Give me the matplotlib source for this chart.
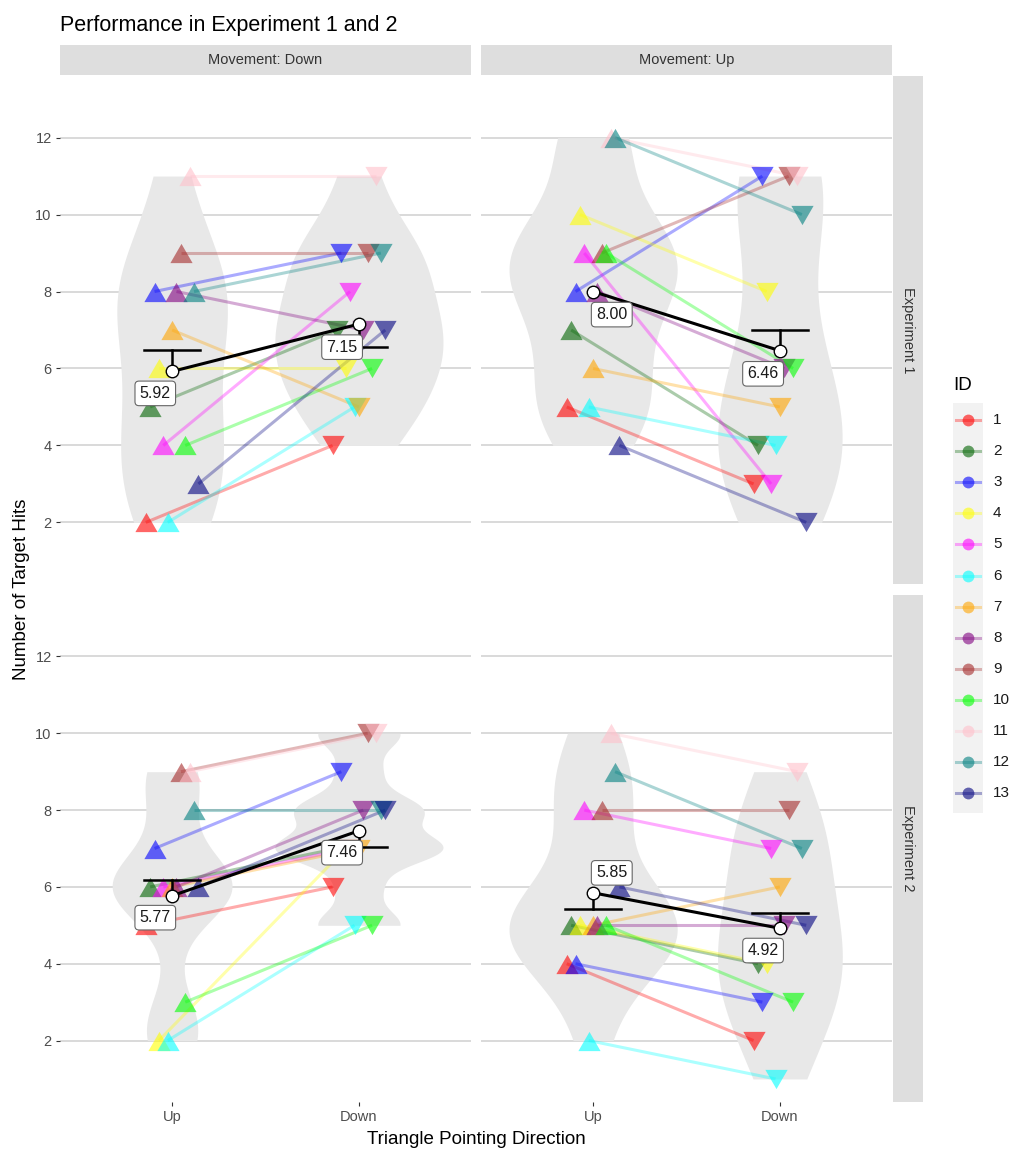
import numpy as np
import matplotlib
matplotlib.use("Agg")
import matplotlib.pyplot as plt
from matplotlib.path import Path
from matplotlib.patches import Rectangle

plt.rcParams['font.family'] = ['Liberation Sans', 'DejaVu Sans']

# participants and their colours
ids = list(range(1, 14))
id_colors = ["#FF0000", "#006400", "#0000FF", "#FFFF00", "#FF00FF", "#00FFFF",
             "#FFA500", "#800080", "#A52A2A", "#00FF00", "#FFC0CB", "#008080", "#000080"]

directions = ["Up", "Down"]          # triangle pointing direction (x axis)
movements = ["Down", "Up"]           # facet columns
experiments = ["Experiment 1", "Experiment 2"]  # facet rows

# number of target hits per ID (1..13)
exp1_movdown_up = [2, 5, 8, 6, 4, 2, 7, 8, 9, 4, 11, 8, 3]
exp1_movdown_down = [4, 7, 9, 6, 8, 5, 5, 7, 9, 6, 11, 9, 7]
exp1_movup_up = [5, 7, 8, 10, 9, 5, 6, 8, 9, 9, 12, 12, 4]
exp1_movup_down = [3, 4, 11, 8, 3, 4, 5, 6, 11, 6, 11, 10, 2]
exp2_movdown_up = [5, 6, 7, 2, 6, 2, 6, 6, 9, 3, 9, 8, 6]
exp2_movdown_down = [6, 7, 9, 7, 7, 5, 7, 8, 10, 5, 10, 8, 8]
exp2_movup_up = [4, 5, 4, 5, 8, 2, 5, 5, 8, 5, 10, 9, 6]
exp2_movup_down = [2, 4, 3, 4, 7, 1, 6, 5, 8, 3, 9, 7, 5]

# error bar lengths (Up, Down)
exp1_movdown_err = [0.55, 0.6]
exp1_movup_err = [0.0, 0.55]
exp2_movdown_err = [0.41, 0.41]
exp2_movup_err = [0.41, 0.41]

panels = {
    (0, 0): (exp1_movdown_up, exp1_movdown_down, exp1_movdown_err),
    (0, 1): (exp1_movup_up, exp1_movup_down, exp1_movup_err),
    (1, 0): (exp2_movdown_up, exp2_movdown_down, exp2_movdown_err),
    (1, 1): (exp2_movup_up, exp2_movup_down, exp2_movup_err),
}

# where the mean labels sit relative to the mean point (layout)
label_offsets = {
    (0, 0): [(-0.09, -0.57), (-0.09, -0.6)],
    (0, 1): [(0.1, -0.6), (-0.09, -0.6)],
    (1, 0): [(-0.09, -0.57), (-0.09, -0.57)],
    (1, 1): [(0.1, 0.52), (-0.09, -0.58)],
}

W, H = 1013, 1151
fig = plt.figure(figsize=(W / 100, H / 100), dpi=100)


def box(x0, y0, x1, y1):
    return [x0 / W, 1 - y1 / H, (x1 - x0) / W, (y1 - y0) / H]


def nrd0(v):
    v = np.asarray(v, float)
    hi = v.std(ddof=1)
    q75, q25 = np.percentile(v, [75, 25])
    lo = min(hi, (q75 - q25) / 1.34)
    if lo == 0:
        lo = hi if hi > 0 else 1.0
    return 0.9 * lo * len(v) ** -0.2


def kde(v):
    v = np.asarray(v, float)
    bw = nrd0(v)
    grid = np.linspace(v.min(), v.max(), 512)
    d = np.exp(-0.5 * ((grid[:, None] - v[None, :]) / bw) ** 2).sum(1)
    d = d / (len(v) * bw * np.sqrt(2 * np.pi))
    return grid, d


tri_up = Path([(0, 0.433), (-0.5, -0.433), (0.5, -0.433), (0, 0.433)],
              [Path.MOVETO, Path.LINETO, Path.LINETO, Path.CLOSEPOLY])
tri_down = Path([(0, -0.433), (-0.5, 0.433), (0.5, 0.433), (0, -0.433)],
                [Path.MOVETO, Path.LINETO, Path.LINETO, Path.CLOSEPOLY])

col_px = [(60, 471), (481, 892)]
row_px = [(76, 584), (595, 1102)]

for r, exp in enumerate(experiments):
    for c, mov in enumerate(movements):
        up, down, err = panels[(r, c)]
        ax = fig.add_axes(box(col_px[c][0], row_px[r][0], col_px[c][1], row_px[r][1]))
        ax.set_xlim(0.4, 2.6)
        ax.set_ylim(0.4, 13.6)

        # violins, scaled by area within the panel
        dens = [kde(up), kde(down)]
        dmax = max(d.max() for _, d in dens)
        for k, (g, d) in enumerate(dens):
            hw = d / dmax * 0.45
            ax.fill_betweenx(g, k + 1 - hw, k + 1 + hw, color="#E8E8E8", lw=0, zorder=1)

        # individual lines and triangles
        for i, pid in enumerate(ids):
            off = (pid - 7) * 0.0235
            col = id_colors[i]
            ax.plot([1 + off, 2 + off], [up[i], down[i]], color=col, alpha=0.33,
                    lw=2.2, solid_capstyle="butt", zorder=2)
        for i, pid in enumerate(ids):
            off = (pid - 7) * 0.0235
            col = id_colors[i]
            ax.plot(1 + off, up[i], marker=tri_up, ms=16, color=col, alpha=0.6,
                    mew=0, ls="none", zorder=3)
            ax.plot(2 + off, down[i], marker=tri_down, ms=16, color=col, alpha=0.6,
                    mew=0, ls="none", zorder=3)

        # means, one-sided error bars, labels
        means = [np.mean(up), np.mean(down)]
        ax.plot([1, 2], means, color="black", lw=2.2, zorder=4)
        for k in range(2):
            if err[k] > 0:
                sgn = np.sign(means[1 - k] - means[k])
                end = means[k] + sgn * err[k]
                ax.plot([k + 1, k + 1], [means[k], end], color="black", lw=1.8, zorder=4)
                ax.plot([k + 1 - 0.15, k + 1 + 0.15], [end, end], color="black", lw=1.8,
                        zorder=4)
        ax.plot([1, 2], means, ls="none", marker="o", ms=9, mfc="white", mec="black",
                mew=1, zorder=5)
        for k in range(2):
            dx, dy = label_offsets[(r, c)][k]
            ax.text(k + 1 + dx, means[k] + dy, f"{means[k]:.2f}", ha="center",
                    va="center", fontsize=11.5, color="#1A1A1A", zorder=6,
                    bbox=dict(boxstyle="round,pad=0.3,rounding_size=0.25", fc="white",
                              ec="#666666", lw=0.8))

        ax.set_xticks([1, 2])
        ax.set_xticklabels(directions)
        ax.set_yticks(range(2, 13, 2))
        ax.tick_params(length=3, width=0.8, color="#333333", labelcolor="#4D4D4D",
                       labelsize=10.5, pad=3)
        if c != 0:
            ax.tick_params(axis="y", left=False, labelleft=False)
        if r != 1:
            ax.tick_params(axis="x", bottom=False, labelbottom=False)
        ax.yaxis.grid(True, color="#D0D0D0", lw=1.1)
        ax.set_axisbelow(True)
        for s in ax.spines.values():
            s.set_visible(False)

# facet strips
for c, mov in enumerate(movements):
    sax = fig.add_axes(box(col_px[c][0], 45, col_px[c][1], 75))
    sax.set_facecolor("#DEDEDE")
    sax.set_xticks([]); sax.set_yticks([])
    for s in sax.spines.values():
        s.set_visible(False)
    sax.text(0.5, 0.5, f"Movement: {mov}", ha="center", va="center", fontsize=10.5,
             color="#333333", transform=sax.transAxes)
for r, exp in enumerate(experiments):
    sax = fig.add_axes(box(893, row_px[r][0], 923, row_px[r][1]))
    sax.set_facecolor("#DEDEDE")
    sax.set_xticks([]); sax.set_yticks([])
    for s in sax.spines.values():
        s.set_visible(False)
    sax.text(0.5, 0.5, exp, ha="center", va="center", fontsize=10.5, rotation=-90,
             color="#333333", transform=sax.transAxes)

fig.text(60 / W, 1 - 31 / H, "Performance in Experiment 1 and 2", fontsize=15.5,
         va="baseline", color="black")
fig.text(22 / W, 1 - 589 / H, "Number of Target Hits", rotation=90, ha="center",
         va="center", fontsize=13.5)
fig.text(476 / W, 1 - 1140 / H, "Triangle Pointing Direction", ha="center",
         va="center", fontsize=13.5)

# legend
lax = fig.add_axes(box(940, 365, 1013, 830))
lax.set_xlim(940, 1013)
lax.set_ylim(830, 365)
lax.axis("off")
lax.text(953, 385, "ID", fontsize=13.5, va="center", ha="left")
lax.add_patch(Rectangle((953, 403), 30, 410, color="#F2F2F2", lw=0))
for i, pid in enumerate(ids):
    yy = 420 + i * 31.1
    lax.plot([956, 980], [yy, yy], color=id_colors[i], alpha=0.33, lw=2.2)
    lax.plot(968, yy, "o", ms=8.5, color=id_colors[i], alpha=0.6, mew=0)
    lax.text(993, yy, str(pid), fontsize=11, va="center", ha="left", color="#1A1A1A")

fig.savefig("out.png", dpi=100)
